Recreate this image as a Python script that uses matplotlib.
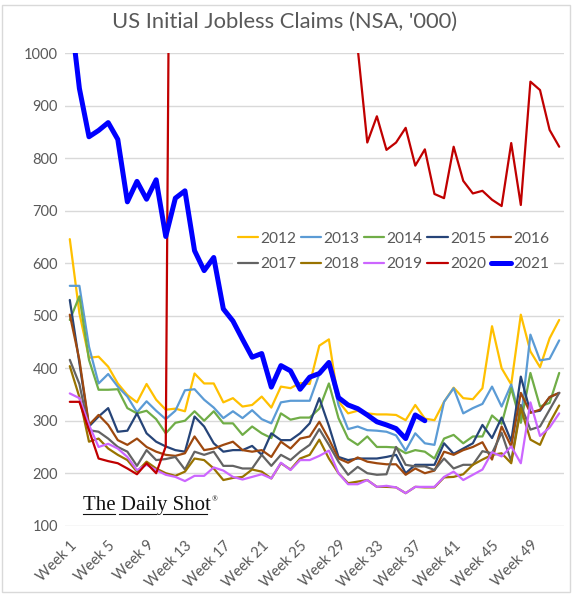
import matplotlib
matplotlib.use("Agg")
import matplotlib.pyplot as plt
from matplotlib.lines import Line2D
from matplotlib.patches import Rectangle

# ---------------- data ('000, NSA) ----------------
weeks = list(range(1, 53))
tick_weeks = [1, 5, 9, 13, 17, 21, 25, 29, 33, 37, 41, 45, 49]
tick_labels = [f"Week {w}" for w in tick_weeks]
y_ticks = [100, 200, 300, 400, 500, 600, 700, 800, 900, 1000]

y2012 = [646, 505, 420, 422, 403, 371, 349, 335, 370, 340, 321, 323, 318, 390, 371, 371,
         335, 343, 327, 330, 346, 325, 365, 362, 372, 370, 443, 455, 337, 314, 319, 314,
         312, 312, 311, 301, 330, 304, 301, 336, 363, 343, 341, 362, 480, 400, 369, 502,
         432, 402, 457, 492]
y2013 = [557, 557, 441, 371, 389, 365, 346, 316, 337, 319, 303, 319, 358, 360, 340, 325,
         305, 318, 305, 320, 303, 295, 335, 338, 338, 338, 389, 408, 330, 284, 289, 282,
         281, 279, 272, 243, 276, 257, 254, 336, 362, 314, 324, 332, 365, 327, 369, 300,
         464, 415, 418, 453]
y2014 = [492, 537, 416, 359, 359, 360, 324, 314, 319, 303, 276, 296, 300, 318, 300, 318,
         295, 295, 273, 289, 276, 267, 314, 302, 306, 306, 323, 371, 305, 266, 254, 270,
         250, 250, 249, 238, 244, 241, 228, 266, 273, 257, 270, 270, 310, 294, 362, 296,
         391, 327, 334, 391]
y2015 = [530, 410, 289, 308, 324, 279, 281, 314, 276, 260, 251, 244, 241, 308, 289, 257,
         241, 244, 244, 252, 235, 276, 263, 263, 276, 295, 343, 290, 231, 225, 228, 228,
         228, 231, 235, 200, 216, 216, 216, 257, 237, 247, 257, 292, 267, 306, 261, 384,
         316, 319, 345, 353]
y2016 = [502, 416, 292, 311, 292, 263, 254, 266, 250, 241, 235, 233, 238, 270, 244, 247,
         254, 260, 244, 241, 244, 231, 260, 247, 266, 270, 298, 265, 228, 220, 230, 222,
         219, 217, 217, 197, 209, 200, 205, 241, 235, 244, 250, 259, 226, 289, 251, 353,
         315, 321, 345, 353]
y2017 = [416, 370, 282, 279, 266, 250, 241, 214, 244, 225, 227, 231, 207, 241, 235, 241,
         214, 214, 209, 209, 235, 214, 235, 225, 241, 254, 284, 254, 222, 197, 212, 200,
         197, 198, 250, 216, 213, 213, 206, 228, 209, 216, 216, 242, 238, 277, 223, 330,
         283, 289, 321, 353]
y2018 = [404, 345, 260, 266, 247, 235, 225, 203, 222, 209, 200, 195, 203, 228, 225, 209,
         187, 191, 193, 207, 203, 190, 219, 207, 228, 235, 264, 228, 200, 181, 184, 187,
         174, 174, 173, 162, 174, 173, 173, 192, 193, 198, 216, 226, 235, 238, 219, 324,
         264, 254, 296, 329]
y2019 = [352, 343, 292, 250, 256, 247, 231, 206, 216, 206, 197, 193, 185, 195, 195, 211,
         205, 193, 188, 193, 198, 190, 220, 206, 225, 225, 233, 243, 200, 179, 179, 187,
         174, 176, 173, 162, 174, 174, 174, 193, 203, 187, 197, 207, 240, 232, 251, 219,
         335, 271, 287, 314]
y2020 = [336, 336, 282, 228, 223, 219, 209, 198, 219, 200, 251, 2920, 6015, 6211, 4976, 4267,
         3490, 2849, 2545, 2174, 2122, 1897, 1570, 1501, 1436, 1413, 1400, 1503, 1370, 1190, 1010, 830,
         880, 816, 830, 858, 786, 817, 732, 724, 822, 757, 733, 738, 721, 709, 829, 711,
         946, 930, 854, 822]
y2021 = [1090, 933, 841, 853, 868, 836, 717, 756, 722, 759, 651, 724, 738, 624, 586, 611,
         513, 490, 455, 421, 428, 364, 405, 395, 360, 383, 390, 411, 344, 330, 323, 311,
         298, 292, 285, 266, 311, 300]

series = [
    ("2012", y2012, "#FFC000", 1.6),
    ("2013", y2013, "#5B9BD5", 1.6),
    ("2014", y2014, "#70AD47", 1.6),
    ("2015", y2015, "#264478", 1.6),
    ("2016", y2016, "#9E480E", 1.6),
    ("2017", y2017, "#636363", 1.6),
    ("2018", y2018, "#997300", 1.6),
    ("2019", y2019, "#CC66FF", 1.6),
    ("2020", y2020, "#C00000", 1.6),
    ("2021", y2021, "#0000FF", 3.6),
]

text_color = "#595959"
plt.rcParams['font.family'] = ['Lato', 'DejaVu Sans']

fig = plt.figure(figsize=(5.79, 6.0), dpi=100)
ax = fig.add_axes([65 / 579, 1 - 525.7 / 600, 499 / 579, (525.7 - 53.3) / 600])

handles = []
for name, vals, col, lw in series:
    h, = ax.plot(weeks[:len(vals)], vals, color=col, lw=lw, label=name,
                 solid_joinstyle='round', solid_capstyle='round')
    handles.append(h)

ax.set_xlim(0.5, 52.5)
ax.set_ylim(100, 1000)
ax.set_yticks(y_ticks)
ax.set_yticklabels([str(v) for v in y_ticks])
ax.set_xticks(tick_weeks)
ax.set_xticklabels(tick_labels, rotation=45, ha='right', rotation_mode='anchor')
ax.tick_params(axis='both', length=0, colors=text_color, labelsize=10.5)
ax.tick_params(axis='y', pad=5)
ax.tick_params(axis='x', pad=9)
for s in ax.spines.values():
    s.set_visible(False)
ax.yaxis.grid(True, color='#d9d9d9', lw=1)
ax.set_axisbelow(True)

# row-major legend order for 2 rows x 5 columns
order = [0, 5, 1, 6, 2, 7, 3, 8, 4, 9]
leg = ax.legend([handles[i] for i in order], [series[i][0] for i in order],
                ncol=5, loc='upper left',
                bbox_to_anchor=((233 - 65) / 499, (1000 - (227 - 53.3) / 0.525 - 100) / 900),
                frameon=True, fontsize=11.2, handlelength=1.3, handletextpad=0.15,
                columnspacing=0.3, labelspacing=0.75, borderpad=0.3, borderaxespad=0)
leg.get_frame().set_facecolor('white')
leg.get_frame().set_edgecolor('none')
leg.get_frame().set_alpha(1)
for t in leg.get_texts():
    t.set_color(text_color)
leg.set_zorder(10)

fig.text(0.492, 1 - 22 / 600, "US Initial Jobless Claims (NSA, '000)", ha='center', va='center',
         fontsize=15.8, color=text_color)

# watermark
fig.text(83 / 579, 1 - 510 / 600, "The Daily Shot", fontsize=15, family='Liberation Serif',
         color='#111111', ha='left', va='baseline')
fig.text(212 / 579, 1 - 501 / 600, "\u00ae", fontsize=5.5, family='Liberation Serif',
         color='#111111', ha='left', va='baseline')
for x0, x1 in [(83, 115), (119, 156), (163, 207)]:
    fig.add_artist(Line2D([x0 / 579, x1 / 579], [1 - 514 / 600, 1 - 514 / 600],
                          color='#111111', lw=0.8, transform=fig.transFigure))

# chart area border
fig.add_artist(Rectangle((2 / 579, 1 - 592 / 600), 568 / 579, 587 / 600, fill=False,
                         edgecolor='#d9d9d9', lw=1, transform=fig.transFigure))

fig.savefig("out.png", dpi=100, facecolor='white')
